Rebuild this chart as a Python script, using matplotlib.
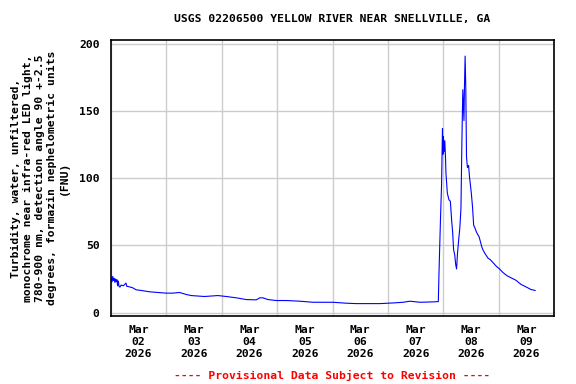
import numpy as np, pandas as pd
import matplotlib; matplotlib.use("Agg"); import matplotlib.pyplot as plt
import matplotlib.dates as mdates

# hours since 2026-03-02 00:00 and turbidity (FNU)
hours = [0, 0.3, 0.6, 0.9, 1.2, 1.5, 1.8, 2.1, 2.4, 2.7, 3.0, 3.3, 3.6, 4.0, 4.5, 5.5,
         6.6, 7.0, 7.4, 9.5, 11, 13.2, 16.8, 20.4, 24, 26.9, 29.8, 32.7, 34.8, 40.6,
         46.4, 50, 54.4, 58.7, 63, 64.5, 65.9, 68.1, 71.7, 76, 81.8, 87.6, 96.3, 102,
         106.4, 110.7, 116.5, 122.3, 126.6, 129.5, 133.9, 139.7, 141.8,
         142.1, 142.4, 142.8, 143.2, 143.6, 143.8, 144.0, 144.3, 144.6, 144.9, 145.1,
         145.7, 146.4, 147.0, 147.6, 148.0, 148.4, 148.9, 149.3, 149.7, 150.1, 150.6,
         151.1, 151.6, 152.0, 152.4, 152.9, 153.1, 153.4, 153.7, 154.0, 154.4, 154.9,
         155.3, 155.7, 156.1, 156.6, 157.1, 157.7, 158.3, 158.9, 159.4, 160.0, 160.6,
         161.1, 162.0, 163.3, 164.3, 165.4, 166.9, 168.3, 169.7, 171.4, 173.3, 175.4,
         177.6, 179.7, 181.9, 183.7]
fnu = [24.5, 26, 23, 27, 24, 25.5, 22.5, 25, 23, 24.5, 20, 23.5, 19.5, 19, 20.5, 20,
       22, 19.5, 19.5, 18.5, 17, 16.5, 15.5, 15, 14.5, 14.5, 15, 13.5, 12.7, 12,
       12.7, 12, 11, 9.7, 9.5, 11, 11, 9.7, 9, 9, 8.5, 7.7, 7.7, 7,
       6.7, 6.7, 6.7, 7.2, 7.7, 8.5, 7.7, 8, 8.2,
       30, 49, 73, 95, 137, 118, 131, 120, 128, 116, 104,
       89, 84, 83, 68, 60, 47, 43, 36, 32.5, 44, 54,
       63, 77.6, 127, 166, 143, 167, 191, 166, 116, 108, 109.6,
       101, 95, 88.7, 78.8, 65, 62.8, 60, 58, 56.7, 53, 49,
       46.8, 44, 40.6, 39.4, 37.4, 34.5, 32.5, 30, 27.6, 25.9, 24.1,
       21, 19.2, 17.2, 16.5]
day_labels = ["Mar\n02\n2026", "Mar\n03\n2026", "Mar\n04\n2026", "Mar\n05\n2026",
              "Mar\n06\n2026", "Mar\n07\n2026", "Mar\n08\n2026", "Mar\n09\n2026"]
title = "USGS 02206500 YELLOW RIVER NEAR SNELLVILLE, GA"
ylab = ("Turbidity, water, unfiltered,\nmonochrome near infra-red LED light,\n"
        "780-900 nm, detection angle 90 +-2.5\ndegrees, formazin nephelometric units\n(FNU)")

t0 = pd.Timestamp("2026-03-02")
t = t0 + pd.to_timedelta(hours, unit="h")

plt.rcParams["font.family"] = "DejaVu Sans Mono"
plt.rcParams["font.weight"] = "bold"
fs = 8.2

fig = plt.figure(figsize=(5.76, 3.84), dpi=100)
ax = fig.add_axes([110.7/576, 1 - 315.7/384, (554.3 - 110.7)/576, (315.7 - 40)/384])
ax.plot(t, fnu, color="#0000ff", lw=0.8)

ax.set_xlim(t0, t0 + pd.Timedelta(days=8))
ax.set_ylim(-2.3, 203)
ax.set_yticks([0, 50, 100, 150, 200])
ax.xaxis.set_minor_locator(mdates.DayLocator())
noons = [t0 + pd.Timedelta(hours=12 + 24*i) for i in range(len(day_labels))]
ax.set_xticks(noons)
ax.set_xticklabels(day_labels, linespacing=1.2)
ax.grid(True, which="minor", axis="x", color="#cccccc", lw=1)
ax.grid(True, which="major", axis="y", color="#cccccc", lw=1)
ax.tick_params(axis="x", which="both", length=0, pad=7, labelsize=fs)
ax.tick_params(axis="y", length=0, pad=8, labelsize=fs)
for lab in ax.get_xticklabels() + ax.get_yticklabels():
    lab.set_fontweight("bold")
for s in ax.spines.values():
    s.set_linewidth(1.2)
ax.set_axisbelow(True)

ax.set_ylabel(ylab, fontsize=fs, fontweight="bold", linespacing=1.25, labelpad=7)
fig.text(332/576, 1 - 19/384, title, ha="center", va="center", fontsize=fs, fontweight="bold")
fig.text(332/576, 1 - 375/384, "---- Provisional Data Subject to Revision ----",
         ha="center", va="center", fontsize=fs, fontweight="bold", color="red")

fig.savefig("out.png", dpi=100)
